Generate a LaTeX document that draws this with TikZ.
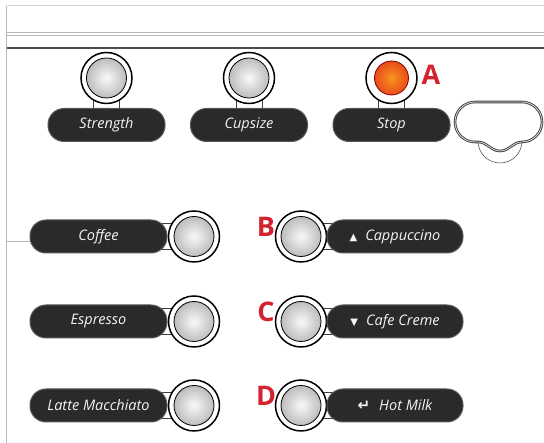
\documentclass[tikz,border=0pt]{standalone}
\usepackage{fontspec}
\newfontfamily\panelfont{Open Sans}
\newfontfamily\symfont{DejaVu Sans}
\usetikzlibrary{calc, positioning, backgrounds}

\definecolor{pillgray}{HTML}{2A2A2A}
\definecolor{markred}{HTML}{D2232E}
\definecolor{ledorange}{HTML}{F7941D}
\definecolor{ledred}{HTML}{E3261C}

\tikzset{
  knob/.style={circle, draw=black, line width=1.5pt, fill=white, minimum size=51pt, inner sep=0pt,
    path picture={\draw[line width=0.8pt, inner color=gray!5, outer color=gray!65] (path picture bounding box.center) circle (20pt);}},
  ledknob/.style={knob,
    path picture={\draw[line width=0.8pt, draw=red!50!black, inner color=ledorange, outer color=ledred] (path picture bounding box.center) circle (17pt);}},
  pill/.style={draw=gray!70!black, line width=1pt, fill=pillgray, rounded corners=16pt, minimum height=33pt,
    inner sep=0pt, text=gray!8, font=\panelfont\itshape\fontsize{14.5}{16}\selectfont},
  stem/.style={draw=black!75, line width=0.8pt, fill=white},
  markletter/.style={text=markred, inner sep=0pt, font=\panelfont\bfseries\fontsize{27}{27}\selectfont},
  frameline/.style={draw=gray!55, line width=1.2pt},
  ovalline/.style={draw=black!75, double=gray!30, double distance=0.8pt, line width=0.9pt},
}

\begin{document}
\begin{tikzpicture}[x=1pt, y=1pt]
    \useasboundingbox (0,0) rectangle (544,443);

    % panel frame
    \draw[frameline, gray!35, line width=0.8pt] (544,437.3) -- (6.7,437.3);
    \draw[frameline] (6.7,437.3) -- (6.7,0);
    \draw[frameline, line width=1pt] (6.7,410.7) -- (544,410.7);
    \draw[frameline, line width=1pt] (6.7,407.3) -- (544,407.3);
    \draw[frameline, gray!60!black, line width=1.8pt] (6.7,395.3) -- (544,395.3);

    % top row
    \foreach \n/\x/\t in {strength/106.5/Strength, cupsize/249/Cupsize} {
        \node[knob] (btn\n) at (\x,365) {};
        \node[pill, minimum width=117pt] (lbl\n) at (\x,318) {\t};
    }
    \node[ledknob] (btnstop) at (391.5,365) {};
    \node[pill, minimum width=117pt] (lblstop) at (391.5,318) {Stop};
    \node[markletter] (marka) at (431,368) {A};

    % drip tray outline
    \draw[ovalline] (475,341) -- (522,341) arc[start angle=90, end angle=-90, radius=20]
        .. controls (512,301) and (510,292) .. (500,292)
        .. controls (490,292) and (488,301) .. (478,301)
        -- (475,301) arc[start angle=270, end angle=90, radius=20] -- cycle;
    \draw[black!65, line width=0.6pt] (478,302) arc[start angle=180, end angle=360, radius=22];

    % left column
    \foreach \n/\y/\t in {coffee/206.5/Coffee, espresso/121.5/Espresso, latte/37.5/Latte Macchiato} {
        \node[pill, minimum width=137pt] (lbl\n) at (98.5,\y) {\t};
        \node[knob] (btn\n) at (194,\y) {};
    }

    % right column
    \foreach \n/\y/\l/\t in {
        cappuccino/206.5/B/{{\symfont\fontsize{10}{10}\selectfont ▲}\hspace{8pt}Cappuccino},
        cafecreme/121.5/C/{{\symfont\fontsize{10}{10}\selectfont ▼}\hspace{8pt}Cafe Creme},
        hotmilk/37.5/D/{{\symfont\bfseries\fontsize{15}{15}\selectfont ↵}\hspace{9pt}Hot Milk}} {
        \node[knob] (btn\n) at (301,\y) {};
        \node[pill, minimum width=136pt] (lbl\n) at (395,\y) {\t\hspace{16pt}};
        \node[markletter] (mark\l) at (266,\y+10) {\l};
    }

    % stems behind buttons
    \begin{scope}[on background layer]
        \foreach \n in {strength,cupsize,stop}
            \draw[stem] ($(btn\n.center)+(-13,0)$) rectangle ($(lbl\n.center)+(13,0)$);
        \foreach \n in {coffee,espresso,latte}
            \draw[stem] ($(lbl\n.center)+(0,-13)$) rectangle ($(btn\n.center)+(0,13)$);
        \foreach \n in {cappuccino,cafecreme,hotmilk}
            \draw[stem] ($(btn\n.center)+(0,-13)$) rectangle ($(lbl\n.center)+(0,13)$);
    \end{scope}

    \coordinate (tap) at (6.7,201.3);
    \draw[frameline] (tap) -- (tap -| lblcoffee.west);
\end{tikzpicture}
\end{document}
